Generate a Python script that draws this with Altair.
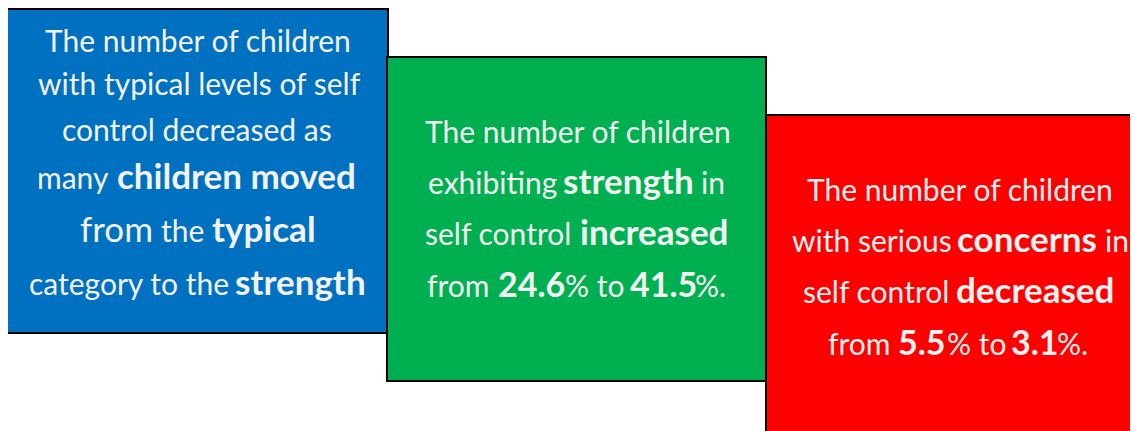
import altair as alt
import pandas as pd

FONT = "Lato"
TEXT_COLOR = "#F2F2F2"

# Boxes
box_names = ["blue", "green", "red"]
box_x = [5, 387, 766]
box_x2 = [388, 766, 1145]
box_y = [9, 57, 115]
box_y2 = [333, 381, 440]
box_fill = ["#0070C0", "#00B050", "#FF0000"]

# Text segments: text, bold flag, left x, baseline y, font size
seg_text = [
    # blue
    "The number of children",
    "with typical levels of self",
    "control decreased as",
    "many", "children moved",
    "from", "the", "typical",
    "category to the", "strength",
    # green
    "The number of children",
    "exhibiting", "strength", "in",
    "self control", "increased",
    "from", "24.6", "% to", "41.5", "%.",
    # red
    "The number of children",
    "with serious", "concerns", "in",
    "self control", "decreased",
    "from", "5.5", "% to", "3.1", "%.",
]
seg_bold = [
    0, 0, 0, 0, 1, 0, 0, 1, 0, 1,
    0, 0, 1, 0, 0, 1, 0, 1, 0, 1, 0,
    0, 0, 1, 0, 0, 1, 0, 1, 0, 1, 0,
]
seg_x = [
    45, 38, 62, 37, 117, 80, 161, 212, 29, 235,
    425, 428, 563, 701, 425, 580, 427, 498, 565, 630, 695,
    807, 792, 957, 1105, 803, 956, 828, 898, 947, 1011, 1057,
]
seg_y = [
    52, 95, 141, 189, 189, 242, 242, 242, 295, 295,
    143, 194, 194, 194, 245, 245, 297, 297, 297, 297, 297,
    201, 252, 252, 252, 303, 303, 355, 355, 355, 355, 355,
]
seg_size = [
    30, 30, 30, 30, 35, 35, 30, 35, 30, 35,
    30, 30, 35, 30, 30, 35, 30, 34, 30, 34, 30,
    30, 30, 35, 30, 30, 35, 30, 34, 30, 34, 30,
]

boxes = pd.DataFrame({"name": box_names, "x": box_x, "x2": box_x2,
                      "y": box_y, "y2": box_y2, "fill": box_fill})
segs = pd.DataFrame({"text": seg_text, "bold": seg_bold, "x": seg_x,
                     "y": seg_y, "size": seg_size})

W, H = 1122, 423
xs = alt.Scale(domain=[8, 8 + W], nice=False, zero=False)
ys = alt.Scale(domain=[8, 8 + H], nice=False, zero=False, reverse=True)

rects = alt.Chart(boxes).mark_rect(stroke="black", strokeWidth=2, clip=True).encode(
    x=alt.X("x:Q", scale=xs, axis=None),
    x2="x2:Q",
    y=alt.Y("y:Q", scale=ys, axis=None),
    y2="y2:Q",
    fill=alt.Fill("fill:N", scale=None),
)

def text_layer(bold):
    return alt.Chart(segs).transform_filter(
        alt.datum.bold == bold
    ).mark_text(
        align="left", baseline="alphabetic", font=FONT,
        fontWeight="bold" if bold else "normal", color=TEXT_COLOR,
    ).encode(
        x=alt.X("x:Q", scale=xs, axis=None),
        y=alt.Y("y:Q", scale=ys, axis=None),
        text="text:N",
        size=alt.Size("size:Q", scale=None, legend=None),
    )

chart = alt.layer(rects, text_layer(0), text_layer(1)).properties(
    width=W, height=H, autosize=alt.AutoSizeParams(type="none"), padding=0,
    background="white",
).configure_view(stroke=None)

chart.save("out.html", embed_options={"renderer": "svg", "actions": False})
